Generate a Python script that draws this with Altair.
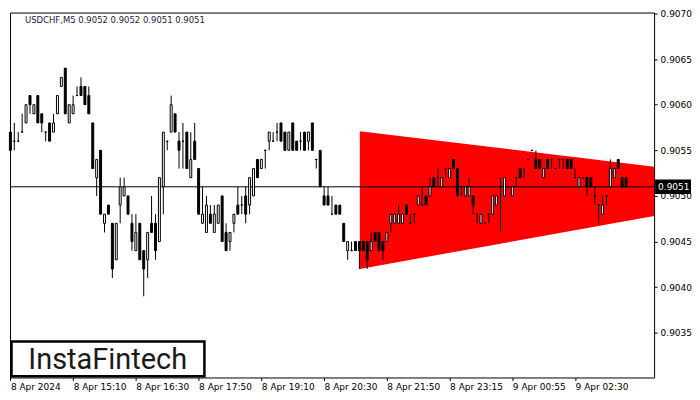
import altair as alt
import pandas as pd

# ---- candle data (USDCHF M5) ----
opens = [0.9057,0.9056,0.9056,0.9057,0.9058,0.9061,0.9059,0.9061,0.9059,0.9057,
         0.9058,0.9057,0.9059,0.9062,0.9064,0.9058,0.9059,0.9061,0.9062,0.9062,
         0.9061,0.9058,0.9052,0.9055,0.9047,0.9049,0.9047,0.9043,0.9049,0.9050,
         0.9050,0.9047,0.9044,0.9047,0.9044,0.9043,0.9047,0.9047,0.9045,0.9051,
         0.9056,0.9057,0.9059,0.9056,0.9056,0.9057,0.9052,0.9056,0.9053,0.9047,
         0.9046,0.9048,0.9046,0.9047,0.9050,0.9046,0.9045,0.9047,0.9049,0.9049,
         0.9050,0.9049,0.9050,0.9054,0.9053,0.9055,0.9056,0.9056,0.9057,0.9058,
         0.9057,0.9055,0.9058,0.9056,0.9056,0.9057,0.9056,0.9058,0.9054,0.9055,
         0.9050,0.9050,0.9048,0.9049,0.9049,0.9047,0.9044,0.9044,0.9045,0.9045,
         0.9045,0.9045,0.9044,0.9046,0.9046,0.9045,0.9045,0.9047,0.9047,0.9047,
         0.9047,0.9049,0.9047,0.9048,0.9049,0.9049,0.9050,0.9050,0.9052,0.9052,
         0.9051,0.9053,0.9052,0.9054,0.9053,0.9051,0.9050,0.9050,0.9050,0.9048,
         0.9047,0.9047,0.9048,0.9048,0.9049,0.9051,0.9050,0.9051,0.9050,0.9052,
         0.9053,0.9053,0.9054,0.9055,0.9054,0.9054,0.9052,0.9054,0.9054,0.9053,
         0.9054,0.9054,0.9054,0.9054,0.9052,0.9051,0.9052,0.9052,0.9052,0.9050,
         0.9049,0.9048,0.9050,0.9051,0.9052,0.9054,0.9052,0.9052]
highs = [0.9057,0.9058,0.9057,0.9059,0.9060,0.9061,0.9060,0.9061,0.9059,0.9057,
         0.9058,0.9059,0.9061,0.9063,0.9064,0.9060,0.9061,0.9062,0.9063,0.9062,
         0.9062,0.9058,0.9054,0.9055,0.9048,0.9049,0.9047,0.9047,0.9052,0.9052,
         0.9050,0.9048,0.9048,0.9047,0.9044,0.9046,0.9050,0.9048,0.9052,0.9057,
         0.9056,0.9061,0.9059,0.9057,0.9058,0.9057,0.9057,0.9058,0.9053,0.9051,
         0.9050,0.9049,0.9049,0.9049,0.9050,0.9047,0.9046,0.9048,0.9051,0.9050,
         0.9051,0.9052,0.9053,0.9054,0.9054,0.9055,0.9057,0.9057,0.9058,0.9058,
         0.9057,0.9057,0.9058,0.9056,0.9057,0.9057,0.9057,0.9058,0.9054,0.9055,
         0.9051,0.9051,0.9050,0.9049,0.9049,0.9047,0.9045,0.9045,0.9045,0.9045,
         0.9045,0.9045,0.9046,0.9046,0.9046,0.9045,0.9046,0.9048,0.9048,0.9049,
         0.9048,0.9049,0.9048,0.9048,0.9050,0.9051,0.9050,0.9052,0.9052,0.9053,
         0.9052,0.9053,0.9053,0.9054,0.9053,0.9051,0.9051,0.9052,0.9050,0.9048,
         0.9048,0.9047,0.9048,0.9050,0.9050,0.9052,0.9052,0.9051,0.9051,0.9052,
         0.9053,0.9053,0.9054,0.9055,0.9055,0.9054,0.9053,0.9054,0.9054,0.9053,
         0.9054,0.9054,0.9054,0.9054,0.9053,0.9052,0.9052,0.9052,0.9052,0.9051,
         0.9049,0.9050,0.9050,0.9054,0.9053,0.9054,0.9052,0.9052]
lows = [0.9055,0.9055,0.9056,0.9057,0.9058,0.9059,0.9059,0.9058,0.9057,0.9056,
        0.9056,0.9057,0.9059,0.9062,0.9059,0.9058,0.9059,0.9061,0.9061,0.9060,
        0.9059,0.9053,0.9050,0.9048,0.9046,0.9048,0.9041,0.9043,0.9047,0.9050,
        0.9048,0.9044,0.9044,0.9043,0.9039,0.9041,0.9046,0.9043,0.9045,0.9048,
        0.9055,0.9057,0.9057,0.9053,0.9053,0.9053,0.9052,0.9054,0.9048,0.9047,
        0.9046,0.9047,0.9046,0.9047,0.9045,0.9044,0.9044,0.9046,0.9048,0.9048,
        0.9047,0.9048,0.9050,0.9052,0.9053,0.9053,0.9055,0.9056,0.9056,0.9056,
        0.9055,0.9055,0.9055,0.9055,0.9055,0.9055,0.9055,0.9055,0.9053,0.9051,
        0.9049,0.9049,0.9048,0.9048,0.9048,0.9045,0.9043,0.9044,0.9044,0.9042,
        0.9044,0.9042,0.9044,0.9045,0.9044,0.9043,0.9045,0.9046,0.9047,0.9047,
        0.9047,0.9048,0.9047,0.9047,0.9049,0.9049,0.9049,0.9050,0.9051,0.9051,
        0.9051,0.9052,0.9052,0.9053,0.9050,0.9050,0.9050,0.9050,0.9048,0.9047,
        0.9047,0.9047,0.9047,0.9048,0.9049,0.9046,0.9050,0.9051,0.9050,0.9051,
        0.9052,0.9052,0.9054,0.9055,0.9053,0.9053,0.9052,0.9053,0.9053,0.9053,
        0.9053,0.9053,0.9053,0.9053,0.9052,0.9051,0.9052,0.9050,0.9051,0.9049,
        0.9047,0.9048,0.9049,0.9051,0.9052,0.9053,0.9051,0.9051]
closes = [0.9055,0.9056,0.9056,0.9057,0.9060,0.9060,0.9060,0.9058,0.9058,0.9057,
          0.9056,0.9058,0.9061,0.9063,0.9059,0.9060,0.9060,0.9061,0.9061,0.9060,
          0.9059,0.9053,0.9054,0.9048,0.9048,0.9048,0.9042,0.9047,0.9051,0.9051,
          0.9048,0.9045,0.9046,0.9043,0.9042,0.9046,0.9046,0.9044,0.9052,0.9057,
          0.9056,0.9060,0.9057,0.9055,0.9056,0.9053,0.9054,0.9054,0.9048,0.9048,
          0.9049,0.9047,0.9048,0.9049,0.9045,0.9044,0.9046,0.9048,0.9048,0.9049,
          0.9048,0.9052,0.9053,0.9052,0.9054,0.9055,0.9057,0.9056,0.9057,0.9056,
          0.9055,0.9057,0.9055,0.9055,0.9056,0.9055,0.9057,0.9055,0.9054,0.9051,
          0.9049,0.9049,0.9048,0.9048,0.9048,0.9045,0.9045,0.9044,0.9044,0.9044,
          0.9044,0.9043,0.9045,0.9045,0.9044,0.9044,0.9046,0.9048,0.9048,0.9048,
          0.9048,0.9048,0.9047,0.9048,0.9050,0.9049,0.9049,0.9051,0.9051,0.9052,
          0.9052,0.9053,0.9053,0.9053,0.9050,0.9051,0.9051,0.9051,0.9049,0.9048,
          0.9048,0.9047,0.9048,0.9050,0.9050,0.9051,0.9052,0.9051,0.9051,0.9052,
          0.9052,0.9053,0.9054,0.9055,0.9053,0.9053,0.9053,0.9053,0.9054,0.9053,
          0.9054,0.9054,0.9053,0.9053,0.9052,0.9052,0.9052,0.9051,0.9051,0.9050,
          0.9049,0.9049,0.9050,0.9053,0.9053,0.9053,0.9051,0.9051]

# ---- axis labels ----
x_tick_index = [0, 16, 32, 48, 64, 80, 96, 112, 128, 144]
x_tick_labels = ["8 Apr 2024", "8 Apr 15:10", "8 Apr 16:30", "8 Apr 17:50",
                 "8 Apr 19:10", "8 Apr 20:30", "8 Apr 21:50", "8 Apr 23:15",
                 "9 Apr 00:55", "9 Apr 02:30"]
y_ticks = [0.9035, 0.9040, 0.9045, 0.9050, 0.9055, 0.9060, 0.9065, 0.9070]

# ---- triangle pattern ----
tri_x = [89.1, 164.15]
tri_top = [0.90571, 0.90532]
tri_bottom = [0.90420, 0.90478]

bid_price = [0.9051]
title_text = "USDCHF,M5  0.9052 0.9052 0.9051 0.9051"
logo_text = "InstaFintech"

W, H = 646, 366
X_DOMAIN = [-0.1, 164.15]
Y_DOMAIN = [0.90301, 0.90701]

df = pd.DataFrame({"i": list(range(len(opens))), "open": opens, "high": highs,
                   "low": lows, "close": closes})
df["top"] = df[["open", "close"]].max(axis=1)
df["bot"] = df[["open", "close"]].min(axis=1)
df["x1"] = df["i"] - 0.25
df["x2"] = df["i"] + 0.25

tri_df = pd.DataFrame({"x": tri_x, "top": tri_top, "bottom": tri_bottom})
bid_df = pd.DataFrame({"p": bid_price, "label": [f"{v:.4f}" for v in bid_price]})
one = pd.DataFrame({"a": [0]})

lab_arr = "[" + ",".join(f"'{s}'" for s in x_tick_labels) + "]"
idx_arr = "[" + ",".join(str(v) for v in x_tick_index) + "]"

x_axis = alt.Axis(values=x_tick_index, labelExpr=f"{lab_arr}[indexof({idx_arr}, datum.value)]",
                  labelAlign="left", labelFlush=False, labelOverlap=False, grid=False,
                  domain=False, tickSize=3, tickColor="black", labelPadding=2,
                  labelFont="DejaVu Sans", labelFontSize=9, labelColor="black", title=None)
y_axis = alt.Axis(values=y_ticks, format=".4f", orient="right", grid=False, domain=False,
                  tickSize=3, tickColor="black", labelPadding=3, labelOverlap=False,
                  labelFont="DejaVu Sans", labelFontSize=9, labelColor="black", title=None)
xs = alt.Scale(domain=X_DOMAIN, nice=False, zero=False)
ys = alt.Scale(domain=Y_DOMAIN, nice=False, zero=False)


def X(f):
    return alt.X(f, type="quantitative", scale=xs, axis=x_axis)


def Y(f):
    return alt.Y(f, type="quantitative", scale=ys, axis=y_axis)


tri = alt.Chart(tri_df).mark_area(color="#FF0000", opacity=1, clip=True).encode(
    x=X("x"), y=Y("top"), y2="bottom")

bid_line = alt.Chart(bid_df).mark_rule(color="black", strokeWidth=1).encode(y=Y("p"))

wicks = alt.Chart(df).mark_rule(color="black", strokeWidth=1).encode(
    x=X("i"), y=Y("low"), y2="high")

bodies = alt.Chart(df).mark_rect(stroke="black", strokeWidth=1).encode(
    x=X("x1"), x2="x2", y=Y("top"), y2="bot",
    fill=alt.condition("datum.close >= datum.open", alt.value("white"), alt.value("black")))

title = alt.Chart(one).mark_text(align="left", baseline="middle", font="DejaVu Sans",
                                 fontSize=8.5, color="#1b1b3a").encode(
    x=alt.value(15), y=alt.value(7), text=alt.value(title_text))

logo_box = alt.Chart(one).mark_rect(fill="white", stroke="black", strokeWidth=2.5).encode(
    x=alt.value(1.5), x2=alt.value(195), y=alt.value(330), y2=alt.value(H - 1.2))

logo = alt.Chart(one).mark_text(align="center", baseline="middle", font="Roboto",
                                fontSize=29, color="#1a1a1a").encode(
    x=alt.value(98), y=alt.value(348), text=alt.value(logo_text))

price_box = alt.Chart(bid_df).transform_calculate(
    p_hi="datum.p + 0.00008", p_lo="datum.p - 0.00008").mark_rect(
    color="black", clip=False).encode(
    x=alt.value(W + 1), x2=alt.value(W + 37), y=Y("p_hi"), y2="p_lo")

price_text = alt.Chart(bid_df).mark_text(align="left", baseline="middle", font="DejaVu Sans",
                                         fontSize=9, color="white", clip=False).encode(
    x=alt.value(W + 4), y=Y("p"), text="label:N")

chart = alt.layer(tri, bid_line, wicks, bodies, title, logo_box, logo,
                  price_box, price_text).properties(
    width=W, height=H, padding={"left": 0, "top": 0, "right": 0, "bottom": 0},
    background="white"
).configure_view(stroke="black", strokeWidth=1)

chart.save("out.html", embed_options={"renderer": "svg", "actions": False})
